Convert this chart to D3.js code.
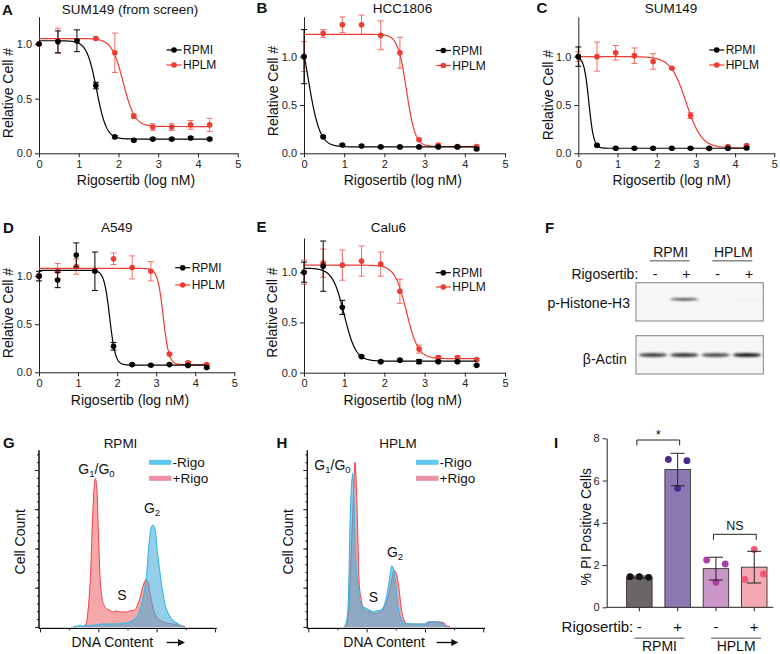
<!DOCTYPE html>
<html>
<head>
<meta charset="utf-8">
<script src="https://cdn.jsdelivr.net/npm/d3@7"></script>
<style>
  body { margin: 0; background: #fff; }
  svg { display: block; font-family: "Liberation Sans", Arial, Helvetica, sans-serif; }
</style>
</head>
<body>
<div id="fig"></div>
<script>
// ---- data ----
const doses = [0, 0.477, 0.954, 1.431, 1.908, 2.386, 2.863, 3.34, 3.817, 4.294];
const doseTicks = [0, 1, 2, 3, 4, 5];
const cellTicks = [0, 0.5, 1.0];

const aRpmi = [1.0, 1.02, 1.03, 0.62, 0.15, 0.12, 0.13, 0.13, 0.14, 0.13];
const aRpmiErr = [0, 0.1, 0.1, 0.03, 0.01, 0.01, 0.01, 0.01, 0.01, 0.01];
const aHplm = [1.0, 1.03, 1.03, 1.05, 0.92, 0.34, 0.24, 0.24, 0.26, 0.26];
const aHplmErr = [0, 0.115, 0.01, 0.01, 0.18, 0.02, 0.03, 0.03, 0.04, 0.06];
const aRpmiFit = [1.03, 0.13, 1.45, 3.5]; // top, bottom, logIC50, hill
const aHplmFit = [1.05, 0.245, 2.12, 3];

const bRpmi = [1.0, 0.17, 0.085, 0.076, 0.066, 0.066, 0.066, 0.066, 0.066, 0.045];
const bRpmiErr = [0.28, 0.01, 0.01, 0.01, 0.01, 0.01, 0.01, 0.01, 0.01, 0.01];
const bHplm = [1.0, 1.24, 1.33, 1.33, 1.22, 1.04, 0.14, 0.086, 0.07, 0.07];
const bHplmErr = [0.155, 0.04, 0.08, 0.1, 0.15, 0.16, 0.01, 0.01, 0.01, 0.01];
const bRpmiFit = [1.5, 0.066, 0.1, 3];
const bHplmFit = [1.23, 0.07, 2.55, 4];

const cRpmi = [1.0, 0.083, 0.052, 0.052, 0.052, 0.052, 0.052, 0.052, 0.052, 0.055];
const cRpmiErr = [0.1, 0.01, 0.01, 0.01, 0.01, 0.01, 0.01, 0.01, 0.01, 0.01];
const cHplm = [1.0, 1.0, 1.04, 1.01, 0.95, 0.88, 0.39, 0.05, 0.07, 0.08];
const cHplmErr = [0.05, 0.15, 0.075, 0.08, 0.08, 0.01, 0.03, 0.01, 0.01, 0.01];
const cRpmiFit = [1.0, 0.052, 0.27, 7];
const cHplmFit = [1.0, 0.055, 2.75, 2.2];

const dRpmi = [1.0, 0.96, 1.22, 1.05, 0.27, 0.08, 0.073, 0.08, 0.07, 0.05];
const dRpmiErr = [0.05, 0.08, 0.125, 0.2, 0.04, 0.01, 0.01, 0.01, 0.01, 0.01];
const dHplm = [1.0, 1.05, 1.1, 1.06, 1.18, 1.09, 1.05, 0.19, 0.1, 0.08];
const dHplmErr = [0.02, 0.08, 0.08, 0.02, 0.06, 0.12, 0.1, 0.01, 0.01, 0.01];
const dRpmiFit = [1.06, 0.075, 1.81, 6];
const dHplmFit = [1.08, 0.08, 3.18, 6];

const eRpmi = [1.0, 1.06, 0.65, 0.16, 0.11, 0.125, 0.11, 0.11, 0.11, 0.073];
const eRpmiErr = [0.1, 0.25, 0.07, 0.01, 0.01, 0.01, 0.02, 0.01, 0.01, 0.01];
const eHplm = [1.0, 1.09, 1.07, 1.11, 1.08, 0.81, 0.235, 0.15, 0.15, 0.13];
const eHplmErr = [0.12, 0.14, 0.15, 0.15, 0.12, 0.12, 0.04, 0.02, 0.01, 0.01];
const eRpmiFit = [1.04, 0.115, 1.0, 3];
const eHplmFit = [1.07, 0.14, 2.55, 3];

// western blot (F)
const blotLanes = ["-", "+", "-", "+"];
const blotMedia = ["RPMI", "HPLM"];
const pHH3Band = [0, 0.9, 0, 0.03];
const actinBand = [0.8, 0.85, 0.75, 0.97];

// cell cycle histograms (G, H): [DNA channel, count]
const gMinusRigo = [[57,0],[63,2],[69,4],[74,2],[80,3],[91,4],[103,7],[114,7],[126,7],[137,8],[149,10],[160,17],[166,25],[171,42],[177,76],[183,136],[187,212],[191,255],[194,259],[198,242],[201,195],[206,136],[210,93],[214,59],[220,34],[226,19],[234,10],[240,4],[245,0]];
const gPlusRigo = [[74,0],[79,8],[83,51],[87,144],[90,272],[93,357],[95,378],[98,340],[100,246],[103,127],[106,76],[110,55],[114,47],[120,42],[126,38],[131,41],[137,38],[143,38],[149,38],[154,41],[160,42],[166,51],[171,72],[177,106],[182,121],[186,110],[190,76],[194,47],[200,25],[206,17],[217,10],[229,7],[240,4],[249,0]];
const hMinusRigo = [[62,0],[66,17],[69,76],[71,229],[74,357],[76,392],[78,340],[81,187],[85,102],[89,64],[94,51],[100,47],[106,42],[111,38],[117,41],[123,42],[129,51],[134,76],[139,119],[143,155],[146,149],[149,119],[154,51],[160,17],[166,8],[177,8],[189,7],[200,7],[206,13],[217,13],[229,8],[237,0]];
const hPlusRigo = [[63,0],[69,34],[71,102],[74,204],[78,357],[80,420],[82,374],[85,229],[87,119],[91,68],[97,42],[106,38],[114,34],[123,38],[131,51],[137,76],[143,119],[147,144],[151,136],[155,102],[160,42],[166,13],[171,7],[189,7],[200,7],[206,11],[220,13],[231,11],[239,2],[243,0]];

// PI positive (I)
const piTreat = ["-", "+", "-", "+"];
const piMedia = ["RPMI", "HPLM"];
const piMeans = [1.43, 6.52, 1.83, 1.9];
const piSD = [0.05, 0.77, 0.54, 0.75];
const piReps = [[1.45, 1.45, 1.42], [7.0, 5.63, 6.94], [2.24, 1.18, 2.05], [1.32, 2.74, 1.58]];
const piTicks = [0, 2, 4, 6, 8];

// ---- style ----
const RED = "#ef3b33";
const INK = "#111";
const barFill = ["#6b6566", "#8c79b3", "#c996c7", "#f3a9b2"];
const dotFill = ["#111111", "#4a2a8c", "#a8409f", "#ee5873"];

const svg = d3.select("#fig").append("svg").attr("width", 780).attr("height", 654);

const defs = svg.append("defs");
defs.append("filter").attr("id", "blur").attr("x", "-30%").attr("y", "-200%").attr("width", "160%").attr("height", "500%")
  .append("feGaussianBlur").attr("stdDeviation", "1.4 0.8");

function styleAxis(sel) {
  sel.attr("font-family", null).attr("font-size", 11);
  sel.selectAll("text").attr("fill", "#222");
  sel.selectAll("line").attr("stroke", "#222");
  sel.select(".domain").attr("stroke", "#222");
}

function label(x, y, txt, size, opts = {}) {
  return svg.append("text").attr("x", x).attr("y", y).attr("font-size", size)
    .attr("fill", INK).attr("text-anchor", opts.anchor || "start")
    .attr("font-weight", opts.bold ? "bold" : null).text(txt);
}

function vLabel(x, y, txt, size) {
  svg.append("text").attr("transform", `translate(${x},${y}) rotate(-90)`)
    .attr("text-anchor", "middle").attr("font-size", size).attr("fill", INK).text(txt);
}

// ---- dose response panels ----
function doseChart(p) {
  const x = d3.scaleLinear().domain([0, 5]).range([p.x0, p.x1]);
  const y = d3.scaleLinear().domain([0, p.yMax]).range([p.y0, p.yTop]);
  const g = svg.append("g");

  g.append("g").attr("transform", `translate(0,${p.y0})`)
    .call(d3.axisBottom(x).tickValues(doseTicks).tickSize(4).tickSizeOuter(0).tickFormat(d3.format("d")))
    .call(styleAxis);
  g.append("g").attr("transform", `translate(${p.x0},0)`)
    .call(d3.axisLeft(y).tickValues(cellTicks).tickSize(4).tickSizeOuter(0).tickFormat(d3.format(".1f")))
    .call(styleAxis);

  const series = [
    { name: "HPLM", color: RED, vals: p.hplm, err: p.hplmErr, fit: p.hplmFit, eo: 0.75 },
    { name: "RPMI", color: "#000", vals: p.rpmi, err: p.rpmiErr, fit: p.rpmiFit, eo: 1 },
  ];
  const last = doses[doses.length - 1];
  const fitX = d3.range(0, last, 0.01).concat([last]);
  const line = d3.line().x((d) => x(d[0])).y((d) => y(d[1]));

  for (const s of series) {
    const [top, bot, ic, h] = s.fit;
    g.append("path")
      .datum(fitX.map((v) => [v, bot + (top - bot) / (1 + Math.pow(10, (v - ic) * h))]))
      .attr("d", line).attr("fill", "none").attr("stroke", s.color).attr("stroke-width", 1.2);

    const eb = g.append("g").attr("stroke", s.color).attr("stroke-width", 1).attr("opacity", s.eo);
    doses.forEach((d, i) => {
      const e = s.err[i];
      if (!e) return;
      const cx = x(d), ya = y(s.vals[i] - e), yb = y(s.vals[i] + e);
      eb.append("line").attr("x1", cx).attr("x2", cx).attr("y1", ya).attr("y2", yb);
      eb.append("line").attr("x1", cx - 3).attr("x2", cx + 3).attr("y1", ya).attr("y2", ya);
      eb.append("line").attr("x1", cx - 3).attr("x2", cx + 3).attr("y1", yb).attr("y2", yb);
    });

    g.append("g").selectAll("circle").data(doses).join("circle")
      .attr("cx", (d) => x(d)).attr("cy", (d, i) => y(s.vals[i]))
      .attr("r", 2.8).attr("fill", s.color);
  }

  // legend
  [["RPMI", "#000"], ["HPLM", RED]].forEach(([n, c], i) => {
    const ly = p.legY[i];
    g.append("line").attr("x1", p.legX - 7.5).attr("x2", p.legX + 7.5).attr("y1", ly).attr("y2", ly)
      .attr("stroke", c).attr("stroke-width", 1.2);
    g.append("circle").attr("cx", p.legX).attr("cy", ly).attr("r", 2.8).attr("fill", c);
    g.append("text").attr("x", p.legX + 9).attr("y", ly).attr("dy", "0.36em")
      .attr("font-size", 12).attr("fill", INK).text(n);
  });

  label(p.lx, p.ly, p.letter, 15, { bold: true });
  label(p.tx, p.ty, p.title, 13.5, { anchor: "middle" });
  label(p.xtX, p.xtY, "Rigosertib (log nM)", 14, { anchor: "middle" });
  vLabel(p.ytX, p.ytY, "Relative Cell #", 14);
}

doseChart({ letter: "A", lx: 2, ly: 15, title: "SUM149 (from screen)", tx: 130, ty: 13.5,
  x0: 39, x1: 237.7, y0: 153.3, yTop: 16.7, yMax: 1.25, ytX: 13.3, ytY: 93, xtX: 136, xtY: 185,
  legX: 174, legY: [50, 65], rpmi: aRpmi, rpmiErr: aRpmiErr, hplm: aHplm, hplmErr: aHplmErr,
  rpmiFit: aRpmiFit, hplmFit: aHplmFit });
doseChart({ letter: "B", lx: 256.5, ly: 12.7, title: "HCC1806", tx: 402.5, ty: 12.5,
  x0: 304, x1: 505, y0: 153.3, yTop: 16.7, yMax: 1.413, ytX: 278.3, ytY: 91, xtX: 402.8, xtY: 185,
  legX: 443.3, legY: [50.5, 65.5], rpmi: bRpmi, rpmiErr: bRpmiErr, hplm: bHplm, hplmErr: bHplmErr,
  rpmiFit: bRpmiFit, hplmFit: bHplmFit });
doseChart({ letter: "C", lx: 536.5, ly: 13.3, title: "SUM149", tx: 671, ty: 12.5,
  x0: 578.3, x1: 774.3, y0: 153.3, yTop: 16.7, yMax: 1.413, ytX: 553.3, ytY: 95, xtX: 671.7, xtY: 185,
  legX: 716.7, legY: [50, 65], rpmi: cRpmi, rpmiErr: cRpmiErr, hplm: cHplm, hplmErr: cHplmErr,
  rpmiFit: cRpmiFit, hplmFit: cHplmFit });
doseChart({ letter: "D", lx: 3, ly: 233, title: "A549", tx: 116.7, ty: 231.5,
  x0: 39, x1: 234.3, y0: 372.3, yTop: 235.7, yMax: 1.42, ytX: 13.3, ytY: 313, xtX: 130, xtY: 405,
  legX: 182.7, legY: [267.7, 285], rpmi: dRpmi, rpmiErr: dRpmiErr, hplm: dHplm, hplmErr: dHplmErr,
  rpmiFit: dRpmiFit, hplmFit: dHplmFit });
doseChart({ letter: "E", lx: 256.5, ly: 231.7, title: "Calu6", tx: 388.3, ty: 231.5,
  x0: 304, x1: 505, y0: 372.7, yTop: 238, yMax: 1.34, ytX: 276.7, ytY: 312.5, xtX: 402.7, xtY: 405,
  legX: 443.3, legY: [272.7, 287], rpmi: eRpmi, rpmiErr: eRpmiErr, hplm: eHplm, hplmErr: eHplmErr,
  rpmiFit: eRpmiFit, hplmFit: eHplmFit });

// ---- F: western blot ----
(function blot() {
  label(545, 233, "F", 15, { bold: true });
  const lane = d3.scalePoint().domain(d3.range(blotLanes.length)).range([654, 748]);
  blotMedia.forEach((m, i) => {
    const cx = (lane(i * 2) + lane(i * 2 + 1)) / 2;
    label(cx + 1, 256.5, m, 14, { anchor: "middle" });
    svg.append("line").attr("x1", cx - 20).attr("x2", cx + 20).attr("y1", 260.7).attr("y2", 260.7)
      .attr("stroke", "#888").attr("stroke-width", 1.4);
  });
  label(638.3, 279, "Rigosertib:", 14, { anchor: "end" });
  blotLanes.forEach((t, i) => label(lane(i) + 1, 279, t, 14, { anchor: "middle" }));

  const boxes = [
    { y: 282.7, name: "p-Histone-H3", nx: 630, ny: 308, bands: pHH3Band, by: 299.3, ry: 1.1 },
    { y: 335.7, name: "β-Actin", nx: 626.7, ny: 364, bands: actinBand, by: 355, ry: 2.1 },
  ];
  boxes.forEach((b) => {
    svg.append("rect").attr("x", 636).attr("y", b.y).attr("width", 127.3).attr("height", 38.3)
      .attr("fill", "#f6f6f6").attr("stroke", "#808080").attr("stroke-width", 1);
    label(b.nx, b.ny, b.name, 14, { anchor: "end" });
    b.bands.forEach((v, i) => {
      if (!v) return;
      svg.append("ellipse").attr("cx", lane(i) - 1).attr("cy", b.by).attr("rx", 14).attr("ry", b.ry)
        .attr("fill", "#1a1a1a").attr("opacity", v).attr("filter", "url(#blur)");
    });
  });
})();

// ---- G, H: cell cycle histograms ----
function histPanel(p) {
  const x = d3.scaleLinear().domain([0, 303]).range([p.x0, p.x0 + 176.7]);
  const y = d3.scaleLinear().domain([0, 450]).range([626.9, 450.4]);
  const g = svg.append("g");

  const area = d3.area().x((d) => x(d[0])).y0(y(0)).y1((d) => y(d[1])).curve(d3.curveMonotoneX);
  const line = d3.line().x((d) => x(d[0])).y((d) => y(d[1])).curve(d3.curveMonotoneX);
  g.append("path").datum(p.plus).attr("d", area).attr("fill", "rgb(240,110,110)").attr("fill-opacity", 0.6);
  g.append("path").datum(p.plus).attr("d", line).attr("fill", "none").attr("stroke", "#ee4048").attr("stroke-width", 1);
  g.append("path").datum(p.minus).attr("d", area).attr("fill", "rgb(70,170,215)").attr("fill-opacity", 0.58);
  g.append("path").datum(p.minus).attr("d", line).attr("fill", "none").attr("stroke", "#38b6e8").attr("stroke-width", 1.1);

  const base = y(0) + 1.5;
  const xa = g.append("g").attr("transform", `translate(0,${base})`);
  xa.call(d3.axisBottom(x).tickValues([50, 150, 250]).tickSize(2).tickSizeOuter(0).tickFormat(""));
  xa.append("g").call(d3.axisBottom(x).tickValues([0, 100, 200, 300]).tickSize(4).tickSizeOuter(0).tickFormat(""));
  xa.call(styleAxis);
  xa.selectAll(".domain").attr("d", `M${p.x0 - 1},0H${x(303)}`);

  const ya = g.append("g").attr("transform", `translate(${p.x0 - 1},0)`);
  ya.call(d3.axisLeft(y).tickValues(d3.range(0, 451, 20)).tickSize(2).tickSizeOuter(0).tickFormat(""));
  ya.append("g").call(d3.axisLeft(y).tickValues([0, 100, 200, 300, 400]).tickSize(4).tickSizeOuter(0).tickFormat(""));
  ya.call(styleAxis);
  ya.selectAll(".domain").attr("d", `M0,${base}V${y(450)}`);

  // legend
  [["-Rigo", "#5ec6f0"], ["+Rigo", "#ec90a8"]].forEach(([n, c], i) => {
    const ly = 462.3 + i * 16;
    g.append("rect").attr("x", p.legX).attr("y", ly - 2.5).attr("width", 22.5).attr("height", 5).attr("fill", c);
    g.append("text").attr("x", p.legX + 23.5).attr("y", ly).attr("dy", "0.36em")
      .attr("font-size", 13.5).attr("fill", INK).text(n);
  });

  label(p.lx, 448, p.letter, 15, { bold: true });
  label(p.tx, 448, p.title, 13.5, { anchor: "middle" });
  vLabel(p.x0 - 15.5, 541.7, "Cell Count", 14);
  label(p.dnaX, 646.7, "DNA Content", 14);
  g.append("line").attr("x1", p.arrow[0]).attr("x2", p.arrow[1] - 5).attr("y1", 642.5).attr("y2", 642.5)
    .attr("stroke", INK).attr("stroke-width", 1.4);
  g.append("path").attr("d", `M${p.arrow[1]},642.5l-7,-3.5v7z`).attr("fill", INK);

  // phase labels
  const g1 = g.append("text").attr("x", p.g1[0]).attr("y", p.g1[1]).attr("font-size", 14)
    .attr("fill", INK).attr("text-anchor", "middle");
  g1.append("tspan").text("G");
  g1.append("tspan").attr("font-size", 9.5).attr("dy", 3).text("1");
  g1.append("tspan").attr("dy", -3).text("/G");
  g1.append("tspan").attr("font-size", 9.5).attr("dy", 3).text("0");
  const g2 = g.append("text").attr("x", p.g2[0]).attr("y", p.g2[1]).attr("font-size", 14)
    .attr("fill", INK).attr("text-anchor", "middle");
  g2.append("tspan").text("G");
  g2.append("tspan").attr("font-size", 9.5).attr("dy", 3).text("2");
  label(p.s[0], p.s[1], "S", 14, { anchor: "middle" });
}

histPanel({ letter: "G", lx: 3, title: "RPMI", tx: 120.5, x0: 40, legX: 149, dnaX: 71.5,
  arrow: [166.7, 185], g1: [96.5, 474], g2: [152, 513], s: [122, 600],
  minus: gMinusRigo, plus: gPlusRigo });
histPanel({ letter: "H", lx: 276.5, title: "HPLM", tx: 398, x0: 308.3, legX: 416, dnaX: 343.3,
  arrow: [436.7, 458.3], g1: [332.5, 470], g2: [395, 557], s: [373.5, 601.5],
  minus: hMinusRigo, plus: hPlusRigo });

// ---- I: PI positive bars ----
(function piChart() {
  const x = d3.scaleBand().domain(d3.range(piMeans.length)).range([620.2, 773.4])
    .paddingInner(0.334).paddingOuter(0.167);
  const y = d3.scaleLinear().domain([0, 8]).range([607.3, 438.3]);
  const g = svg.append("g");

  g.append("g").attr("transform", `translate(606.7,0)`)
    .call(d3.axisLeft(y).tickValues(piTicks).tickSize(4).tickSizeOuter(0))
    .call(styleAxis);
  const xa = g.append("g").attr("transform", `translate(0,607.3)`)
    .call(d3.axisBottom(x).tickSize(4).tickSizeOuter(0).tickFormat(""))
    .call(styleAxis);
  xa.select(".domain").attr("d", "M606.7,0H773.3");

  const bw = x.bandwidth();
  g.selectAll("rect.bar").data(piMeans).join("rect").attr("class", "bar")
    .attr("x", (d, i) => x(i)).attr("y", (d) => y(d)).attr("width", bw).attr("height", (d) => y(0) - y(d))
    .attr("fill", (d, i) => barFill[i]).attr("stroke", "#333").attr("stroke-width", 0.9);

  piReps.forEach((reps, i) => {
    const cx = x(i) + bw / 2;
    reps.forEach((v, j) => {
      g.append("circle").attr("cx", cx + (j - 1) * 9.3).attr("cy", y(v)).attr("r", 3.4).attr("fill", dotFill[i]);
    });
    const sd = piSD[i], m = piMeans[i];
    const eg = g.append("g").attr("stroke", "#222").attr("stroke-width", 1);
    eg.append("line").attr("x1", cx).attr("x2", cx).attr("y1", y(m - sd)).attr("y2", y(m + sd));
    [m - sd, m + sd].forEach((v) => eg.append("line").attr("x1", cx - 7).attr("x2", cx + 7).attr("y1", y(v)).attr("y2", y(v)));
  });

  // significance brackets
  const brackets = [[0, 1, "*", 440, 13], [2, 3, "NS", 534.3, 12.5]];
  brackets.forEach(([a, b, t, by, fs]) => {
    const xa1 = x(a) + bw / 2 - 2.5, xb1 = x(b) + bw / 2 + 2;
    g.append("path").attr("d", `M${xa1},${by + 5.5}V${by}H${xb1}V${by + 5.5}`)
      .attr("fill", "none").attr("stroke", "#222").attr("stroke-width", 1);
    label((xa1 + xb1) / 2, t === "*" ? by - 1.5 : by - 4, t, fs, { anchor: "middle" });
  });

  label(633.3, 631.7, "Rigosertib:", 15, { anchor: "end" });
  piTreat.forEach((t, i) => label(x(i) + bw / 2, 631.7, t, 15, { anchor: "middle" }));
  piMedia.forEach((m, k) => {
    const cx = (x(2 * k) + x(2 * k + 1) + bw) / 2 + 1;
    g.append("line").attr("x1", cx - 25).attr("x2", cx + 25).attr("y1", 638.3).attr("y2", 638.3)
      .attr("stroke", "#888").attr("stroke-width", 1.4);
    label(cx, 651, m, 14, { anchor: "middle" });
  });

  vLabel(591, 526.7, "% PI Positive Cells", 14);
  label(554, 448, "I", 15, { bold: true });
})();
</script>
</body>
</html>
